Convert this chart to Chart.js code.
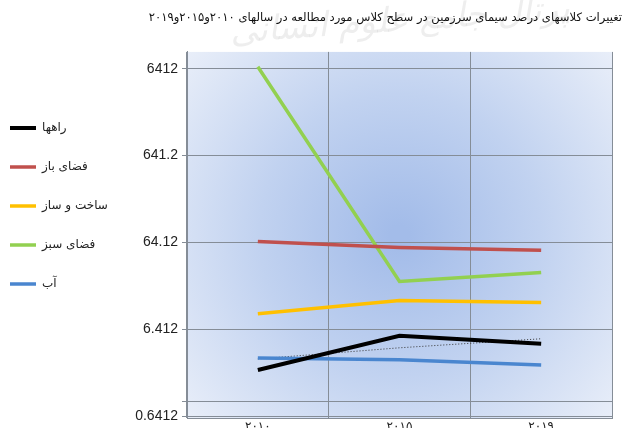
<!DOCTYPE html>
<html lang="fa">
<head>
<meta charset="utf-8">
<script src="https://cdn.jsdelivr.net/npm/chart.js@4/dist/chart.umd.min.js"></script>
<style>
  html, body { margin: 0; padding: 0; background: #ffffff; overflow: hidden; }
  #wrap { position: relative; width: 627px; height: 437px; }
</style>
</head>
<body>
<div id="wrap"><canvas id="chart" width="627" height="437"></canvas></div>
<script>
// Years of the study (Persian digits)
const years = ['۲۰۱۰', '۲۰۱۵', '۲۰۱۹'];

// Land-cover class percentages per year
const roads        = [2.18, 5.39, 4.36];   // راهها
const openSpace    = [65.8, 56.1, 51.9];   // فضای باز
const construction = [9.68, 13.7, 13.0];   // ساخت و ساز
const greenSpace   = [6760, 22.7, 28.8];   // فضای سبز
const water        = [3.0, 2.85, 2.49];    // آب
const roadsTrend   = [2.92, 3.92, 4.98];   // dotted trend of roads

const seriesNames = ['راهها', 'فضای باز', 'ساخت و ساز', 'فضای سبز', 'آب'];

// Logarithmic axis ticks and their printed labels
const yTickValues = [0.6412, 6.412, 64.12, 641.2, 6412];
const yTickLabels = ['0.6412', '6.412', '64.12', '641.2', '6412'];
const yExtraLine  = 0.956;   // extra horizontal rule above the axis floor
const yMin = 0.6412;
const yMax = 10000;

const titleText = 'تغییرات کلاسهای درصد سیمای سرزمین در سطح کلاس مورد مطالعه در سالهای ۲۰۱۰و۲۰۱۵و۲۰۱۹';
const watermarkText = 'پرتال جامع علوم انسانی';

const ARABIC_FONT = "'DejaVu Sans', sans-serif";
const NUM_FONT = "'Liberation Sans Narrow', 'Liberation Sans', Arial, sans-serif";
const GRID = '#858d97';
const PLOT_LEFT = 187;
const LEGEND_X = 10;      // left edge of the legend swatches
const LEGEND_Y = 122;     // top of the first legend row
const LEGEND_PAD = 27;

// Soft blue radial fill behind the plot
const plotBackground = {
  id: 'plotBackground',
  beforeDraw(chart) {
    const { ctx, chartArea: a } = chart;
    ctx.save();
    const cx = a.left + (a.right - a.left) * 0.5;
    const cy = a.top + (a.bottom - a.top) * 0.5;
    const g = ctx.createRadialGradient(cx, cy, 10, cx, cy, 300);
    g.addColorStop(0, '#a3bce9');
    g.addColorStop(0.45, '#c1d2f0');
    g.addColorStop(1, '#eef2fa');
    ctx.fillStyle = g;
    ctx.fillRect(a.left, a.top, a.right - a.left, a.bottom - a.top);
    ctx.restore();
  }
};

// Faint grey watermark across the top
const watermark = {
  id: 'watermark',
  beforeDraw(chart) {
    const { ctx } = chart;
    ctx.save();
    ctx.translate(400, 22);
    ctx.rotate(-0.07);
    ctx.font = "italic 34px " + ARABIC_FONT;
    ctx.fillStyle = 'rgba(120,120,120,0.13)';
    ctx.textAlign = 'center';
    ctx.textBaseline = 'middle';
    ctx.fillText(watermarkText, 0, 0);
    ctx.restore();
  }
};

// Place the legend block at a fixed spot on the left
const legendPlacement = {
  id: 'legendPlacement',
  afterLayout(chart) {
    const lg = chart.legend;
    if (!lg) return;
    lg.left = LEGEND_X - LEGEND_PAD;
    lg.right = 135;
    lg.top = LEGEND_Y - LEGEND_PAD;
  }
};

function lineSet(label, data, color, width) {
  return {
    label, data,
    borderColor: color,
    backgroundColor: color,
    borderWidth: width,
    pointRadius: 0,
    pointHoverRadius: 0,
    tension: 0,
    fill: false,
    yAxisID: 'y'
  };
}

const datasets = [
  lineSet(seriesNames[0], roads, '#000000', 4),
  lineSet(seriesNames[1], openSpace, '#c0504d', 3.5),
  lineSet(seriesNames[2], construction, '#ffc000', 3.5),
  lineSet(seriesNames[3], greenSpace, '#92d050', 3.5),
  lineSet(seriesNames[4], water, '#4a86cf', 3.5),
  Object.assign(lineSet('trend', roadsTrend, '#333333', 1), { borderDash: [1, 2] })
];

new Chart(document.getElementById('chart'), {
  type: 'line',
  data: { labels: years, datasets },
  plugins: [plotBackground, watermark, legendPlacement],
  options: {
    responsive: false,
    animation: false,
    devicePixelRatio: 1,
    layout: { padding: { left: 0, right: 5, top: 0, bottom: 2 } },
    plugins: {
      tooltip: { enabled: false },
      title: {
        display: true,
        text: titleText,
        align: 'end',
        color: '#111111',
        font: { family: ARABIC_FONT, size: 11.6, weight: 'normal', lineHeight: 1.2 },
        padding: { top: 11, bottom: 27 }
      },
      legend: {
        position: 'left',
        align: 'start',
        labels: {
          filter: (item) => item.datasetIndex < 5,
          usePointStyle: true,
          pointStyle: 'line',
          pointStyleWidth: 26,
          boxHeight: 12,
          padding: LEGEND_PAD,
          color: '#222222',
          font: { family: ARABIC_FONT, size: 12 }
        }
      }
    },
    scales: {
      x: {
        offset: true,
        grid: { offset: true, color: GRID, lineWidth: 1, drawTicks: false },
        border: { color: GRID },
        ticks: {
          padding: 1,
          color: '#222222',
          font: { family: ARABIC_FONT, size: 12 }
        }
      },
      y: {
        type: 'logarithmic',
        min: yMin,
        max: yMax,
        afterBuildTicks(scale) {
          scale.ticks = yTickValues.concat([yExtraLine])
            .sort((a, b) => a - b)
            .map(v => ({ value: v }));
        },
        afterFit(scale) {
          const legendW = scale.chart.legend ? scale.chart.legend.width : 0;
          scale.width = PLOT_LEFT - legendW;
        },
        grid: { color: GRID, lineWidth: 1, tickLength: 5 },
        border: { color: GRID },
        ticks: {
          padding: 4,
          color: '#222222',
          font: { family: NUM_FONT, size: 14 },
          callback(value) {
            const i = yTickValues.findIndex(v => Math.abs(v - value) < v * 1e-6);
            return i >= 0 ? yTickLabels[i] : '';
          }
        }
      },
      // narrow empty strip on the right of the plot
      side: {
        position: 'right',
        display: true,
        grid: { display: false },
        border: { display: false },
        ticks: { display: false },
        afterFit(scale) { scale.width = 10; }
      }
    }
  }
});
</script>
</body>
</html>
